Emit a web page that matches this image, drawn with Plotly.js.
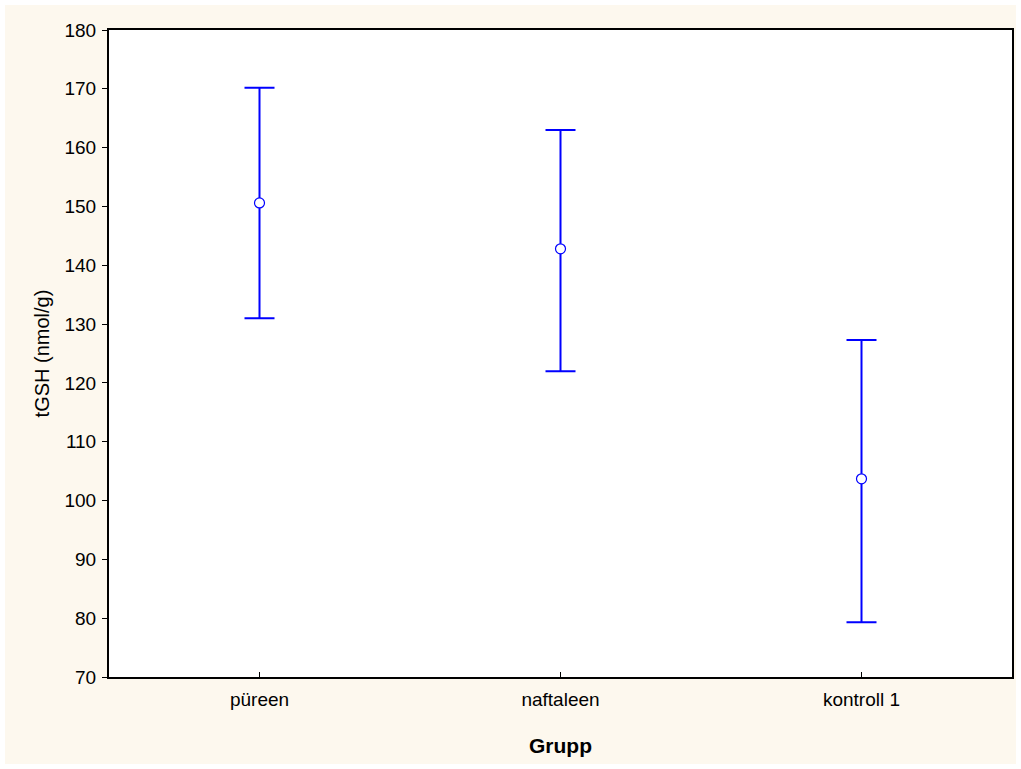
<!DOCTYPE html>
<html>
<head>
<meta charset="utf-8">
<script src="https://cdn.plot.ly/plotly-3.0.1.min.js"></script>
<style>
html,body{margin:0;padding:0;background:#ffffff;}
#chart{position:absolute;left:5px;top:5px;width:1011px;height:759px;}
</style>
</head>
<body>
<div id="chart"></div>
<script>
const categories = ["püreen", "naftaleen", "kontroll 1"];
const means = [150.6, 142.8, 103.7];
const upper = [170.2, 163.0, 127.3];
const lower = [131.0, 122.0, 79.3];
const yTicks = [70, 80, 90, 100, 110, 120, 130, 140, 150, 160, 170, 180];

const plus = upper.map((u, i) => u - means[i]);
const minus = means.map((m, i) => m - lower[i]);

const trace = {
  type: "scatter",
  mode: "markers",
  x: categories,
  y: means,
  marker: {symbol: "circle", size: 10, color: "#ffffff", line: {color: "#0000ff", width: 1.2}},
  error_y: {type: "data", symmetric: false, array: plus, arrayminus: minus,
            color: "#0000ff", thickness: 2, width: 15},
  showlegend: false,
  hoverinfo: "skip"
};

const layout = {
  width: 1011, height: 759,
  paper_bgcolor: "#fdf8ee",
  plot_bgcolor: "#ffffff",
  margin: {l: 104, r: 4, t: 25, b: 87},
  font: {family: "Liberation Sans, Arial, sans-serif", color: "#000000", size: 19},
  xaxis: {
    type: "category", range: [-0.5, 2.5],
    showline: true, linecolor: "#000000", linewidth: 2, mirror: true,
    ticks: "inside", ticklen: 5, tickcolor: "#000000",
    showgrid: false, zeroline: false,
    tickfont: {size: 19},
    ticklabelstandoff: 4,
    title: {text: "<b>Grupp</b>", font: {size: 21}, standoff: 30}
  },
  yaxis: {
    range: [70, 180], tickvals: yTicks,
    showline: true, linecolor: "#000000", linewidth: 2, mirror: true,
    ticks: "outside", ticklen: 5, tickcolor: "#000000",
    showgrid: false, zeroline: false,
    tickfont: {size: 19},
    ticklabelstandoff: 2,
    title: {text: "tGSH (nmol/g)", font: {size: 20}, standoff: 9}
  }
};

Plotly.newPlot("chart", [trace], layout, {displayModeBar: false, staticPlot: true});
</script>
</body>
</html>
